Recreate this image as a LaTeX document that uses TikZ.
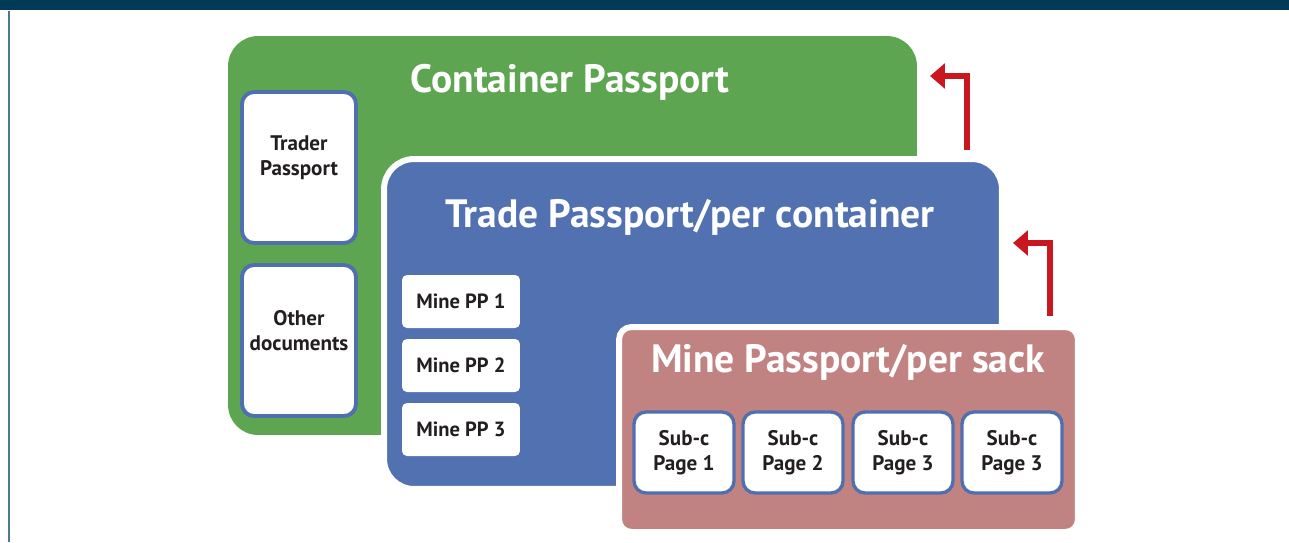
\documentclass[tikz,border=0pt]{standalone}
\usepackage{fontspec}
\setmainfont{PT Sans}
\usepackage{xcolor}
\usetikzlibrary{arrows.meta,positioning}
\definecolor{banner}{HTML}{013A57}
\definecolor{rim}{HTML}{4D7A8A}
\definecolor{grass}{HTML}{5DA551}
\definecolor{steel}{HTML}{5171B0}
\definecolor{rose}{HTML}{C08381}
\definecolor{docline}{HTML}{4F6FB0}
\definecolor{ink}{HTML}{231F20}
\definecolor{redarrow}{HTML}{C8171E}

\begin{document}
\begin{tikzpicture}[
  x=0.02cm,y=-0.02cm,
  panel/.style={rounded corners=6mm,inner sep=0pt},
  title/.style={text=white,font=\bfseries\fontsize{22.5}{27}\selectfont},
  doc/.style={draw=docline,line width=2.2pt,fill=white,rounded corners=2.4mm,
              inner sep=0pt,minimum width=2.28cm,minimum height=3.02cm},
  doctext/.style={align=center,text=ink,font=\bfseries\fontsize{12}{14.5}\selectfont},
  mine/.style={fill=white,rounded corners=1mm,inner sep=0pt,
               minimum width=2.36cm,minimum height=1.06cm,
               text=ink,font=\bfseries\fontsize{11.7}{14}\selectfont},
  subc/.style={draw=docline,line width=1.9pt,fill=white,rounded corners=2.4mm,
               align=center,inner sep=0pt,minimum width=2.0cm,minimum height=1.62cm,
               text=ink,font=\bfseries\fontsize{12}{14.5}\selectfont},
  flow/.style={-{Triangle[length=8.5pt,width=14pt]},line width=3.1pt,draw=redarrow}
]
\useasboundingbox (0,0) rectangle (1289,542);
\fill[banner] (0,0) rectangle (1289,10);
\draw[rim,line width=0.9pt] (9,10.5) -- (9,542);

\node[panel,fill=grass,minimum width=13.78cm,minimum height=7.98cm] (container) at (572.5,235.5) {};
\node[title] (containertitle) at (570,82) {Container Passport};
\node[doc] (trader) at (299,167.5) {};
\node[doctext] (tradertext) at ([yshift=0.2cm]trader.center) {Trader\\Passport};
\node[doc] (other) at (299,340.5) {};
\node[doctext] (othertext) at ([yshift=0.2cm]other.center) {Other\\documents};

\node[panel,fill=steel,draw=white,line width=3.4pt,minimum width=12.36cm,minimum height=6.6cm] (trade) at (693,324) {};
\node[title] (tradetitle) at (690,217) {Trade Passport/per container};
\node[mine] (pp1) at (461,301.5) {Mine PP 1};
\node[mine] (pp2) at (461,365.5) {Mine PP 2};
\node[mine] (pp3) at (461,429.5) {Mine PP 3};

\node[panel,rounded corners=2.5mm,fill=rose,draw=white,line width=3.4pt,minimum width=9.18cm,minimum height=4.1cm] (sack) at (848.5,429.5) {};
\node[title] (sacktitle) at (848,362) {Mine Passport/per sack};
\node[subc] (page1) at (684,452.5) {Sub-c\\Page 1};
\node[subc] (page2) at (793,452.5) {Sub-c\\Page 2};
\node[subc] (page3) at (903,452.5) {Sub-c\\Page 3};
\node[subc] (page4) at (1012,452.5) {Sub-c\\Page 3};

\coordinate (tradeup) at (967,150);
\coordinate (tocontainer) at (930,76);
\coordinate (sackup) at (1050,316);
\coordinate (totrade) at (1013,243);
\draw[flow] (tradeup) |- (tocontainer);
\draw[flow] (sackup) |- (totrade);
\end{tikzpicture}
\end{document}
